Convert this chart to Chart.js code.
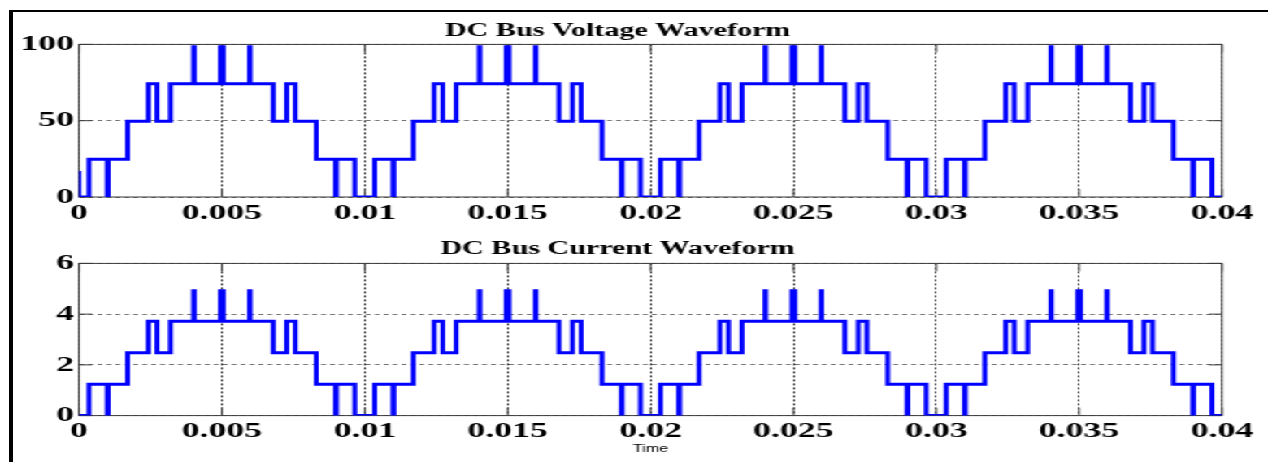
<!DOCTYPE html>
<html><head><meta charset="utf-8">
<script src="https://cdn.jsdelivr.net/npm/chart.js@4.4.1/dist/chart.umd.min.js"></script>
<style>
html,body{margin:0;padding:0;background:#fff;overflow:hidden;}
#page{position:relative;width:1268px;height:462px;overflow:hidden;background:#fff;}
#stage{position:absolute;left:0;top:0;width:780px;height:462px;transform:scaleX(1.625641);transform-origin:0 0;}
#c1{position:absolute;left:0;top:0;}
#c2{position:absolute;left:0;top:231px;}
.frameTop{position:absolute;left:9px;top:10px;width:1259px;height:2px;background:#000;}
.frameLeft{position:absolute;left:9px;top:10px;width:4px;height:452px;background:#000;}
</style></head>
<body>
<div id="page">
  <div id="stage">
    <canvas id="c1" width="780" height="231"></canvas>
    <canvas id="c2" width="780" height="231"></canvas>
  </div>
  <div class="frameTop"></div>
  <div class="frameLeft"></div>
</div>
<script>
// ---- data (switching instants in seconds) ----
const timeSec = [
  0, 0,
  0.00035, 0.00099, 0.00102, 0.0017, 0.00243, 0.00273, 0.0032, 0.00401, 0.00403, 0.00495,
  0.00505, 0.00597, 0.00599, 0.0068, 0.00727, 0.00757, 0.0083, 0.00898, 0.00901, 0.00965,
  0.01035, 0.01099, 0.01102, 0.0117, 0.01243, 0.01273, 0.0132, 0.01401, 0.01403, 0.01495,
  0.01505, 0.01597, 0.01599, 0.0168, 0.01727, 0.01757, 0.0183, 0.01898, 0.01901, 0.01965,
  0.02035, 0.02099, 0.02102, 0.0217, 0.02243, 0.02273, 0.0232, 0.02401, 0.02403, 0.02495,
  0.02505, 0.02597, 0.02599, 0.0268, 0.02727, 0.02757, 0.0283, 0.02898, 0.02901, 0.02965,
  0.03035, 0.03099, 0.03102, 0.0317, 0.03243, 0.03273, 0.0332, 0.03401, 0.03403, 0.03495,
  0.03505, 0.03597, 0.03599, 0.0368, 0.03727, 0.03757, 0.0383, 0.03898, 0.03901, 0.03965,
  0.04
];
const voltageV = [
  17, 0,
  24.8, 0, 24.8, 49.6, 74.2, 49.6, 74.2, 98.5, 74.2, 98.5,
  74.2, 98.5, 74.2, 49.6, 74.2, 49.6, 24.8, 0, 24.8, 0,
  24.8, 0, 24.8, 49.6, 74.2, 49.6, 74.2, 98.5, 74.2, 98.5,
  74.2, 98.5, 74.2, 49.6, 74.2, 49.6, 24.8, 0, 24.8, 0,
  24.8, 0, 24.8, 49.6, 74.2, 49.6, 74.2, 98.5, 74.2, 98.5,
  74.2, 98.5, 74.2, 49.6, 74.2, 49.6, 24.8, 0, 24.8, 0,
  24.8, 0, 24.8, 49.6, 74.2, 49.6, 74.2, 98.5, 74.2, 98.5,
  74.2, 98.5, 74.2, 49.6, 74.2, 49.6, 24.8, 0, 24.8, 0,
  0
];
const currentA = [
  0, 0,
  1.24, 0, 1.24, 2.48, 3.72, 2.48, 3.72, 4.92, 3.72, 4.92,
  3.72, 4.92, 3.72, 2.48, 3.72, 2.48, 1.24, 0, 1.24, 0,
  1.24, 0, 1.24, 2.48, 3.72, 2.48, 3.72, 4.92, 3.72, 4.92,
  3.72, 4.92, 3.72, 2.48, 3.72, 2.48, 1.24, 0, 1.24, 0,
  1.24, 0, 1.24, 2.48, 3.72, 2.48, 3.72, 4.92, 3.72, 4.92,
  3.72, 4.92, 3.72, 2.48, 3.72, 2.48, 1.24, 0, 1.24, 0,
  1.24, 0, 1.24, 2.48, 3.72, 2.48, 3.72, 4.92, 3.72, 4.92,
  3.72, 4.92, 3.72, 2.48, 3.72, 2.48, 1.24, 0, 1.24, 0,
  0
];
const xTickLabels = ['0', '0.005', '0.01', '0.015', '0.02', '0.025', '0.03', '0.035', '0.04'];
const voltageTickLabels = ['0', '50', '100'];
const currentTickLabels = ['0', '2', '4', '6'];
const voltageTitle = 'DC Bus Voltage Waveform';
const currentTitle = 'DC Bus Current Waveform';
const xAxisTitle = 'Time';

// ---- styling / construction ----
const SERIF = "'Liberation Serif', 'Times New Roman', serif";
const tickFont = {family: SERIF, size: 22, weight: 'bold', lineHeight: 1.2};

const framePlugin = {
  id: 'frameTicks',
  beforeDatasetsDraw(chart) {
    const {ctx, chartArea: a, scales} = chart;
    const tl = 8;
    ctx.save();
    ctx.setLineDash([]);
    ctx.strokeStyle = '#3a3a3a';
    ctx.lineWidth = 1;
    ctx.beginPath();
    scales.x.ticks.forEach(t => {
      const px = scales.x.getPixelForValue(t.value);
      ctx.moveTo(px, a.bottom); ctx.lineTo(px, a.bottom - tl);
      ctx.moveTo(px, a.top); ctx.lineTo(px, a.top + tl);
    });
    scales.y.ticks.forEach(t => {
      const py = scales.y.getPixelForValue(t.value);
      ctx.moveTo(a.left, py); ctx.lineTo(a.left + tl, py);
      ctx.moveTo(a.right, py); ctx.lineTo(a.right - tl, py);
    });
    ctx.stroke();
    ctx.strokeRect(a.left, a.top, a.right - a.left, a.bottom - a.top);
    ctx.restore();
  }
};

function makeChart(canvasId, values, yMax, yStep, yLabels, title, titlePad, layoutPad, withXTitle) {
  const pts = timeSec.map((t, i) => ({x: t, y: values[i]}));
  return new Chart(document.getElementById(canvasId), {
    type: 'line',
    data: {datasets: [{
      data: pts,
      borderColor: '#0000ff',
      borderWidth: 3,
      stepped: true,
      pointRadius: 0,
      fill: false,
      borderJoinStyle: 'miter',
      borderCapStyle: 'butt'
    }]},
    options: {
      responsive: false,
      animation: false,
      events: [],
      layout: {padding: layoutPad},
      plugins: {
        legend: {display: false},
        tooltip: {enabled: false},
        title: {
          display: true, text: title, color: '#000',
          font: {family: SERIF, size: 18.5, weight: 'bold', lineHeight: 1.2},
          padding: titlePad
        }
      },
      scales: {
        x: {
          type: 'linear', min: 0, max: 0.04,
          grid: {color: '#2a2a2a', lineWidth: 1, drawTicks: false},
          border: {display: false, dash: [2, 2]},
          ticks: {
            stepSize: 0.005, padding: 3, color: '#000', font: tickFont, maxRotation: 0, autoSkip: false,
            callback: (v, i) => xTickLabels[i]
          },
          title: withXTitle ? {
            display: true, text: xAxisTitle, color: '#000',
            font: {family: "'Liberation Sans', Arial, sans-serif", size: 10, lineHeight: 1},
            padding: {top: -4, bottom: 8}
          } : {display: false}
        },
        y: {
          min: 0, max: yMax,
          afterFit: s => { s.width = 40.3; },
          grid: {color: '#777', lineWidth: 1, drawTicks: false},
          border: {display: false, dash: [3, 2.5]},
          ticks: {
            stepSize: yStep, padding: 3, color: '#000', font: tickFont,
            callback: (v, i) => yLabels[i]
          }
        }
      }
    },
    plugins: [framePlugin]
  });
}

makeChart('c1', voltageV, 100, 50, voltageTickLabels, voltageTitle,
  {top: 20, bottom: 2.2}, {left: 8.3, right: 28.3, top: 0, bottom: 1.6}, false);
makeChart('c2', currentA, 6, 2, currentTickLabels, currentTitle,
  {top: 6.8, bottom: 3.4}, {left: 8.3, right: 28.3, top: 0, bottom: 0}, true);
</script>
</body></html>
